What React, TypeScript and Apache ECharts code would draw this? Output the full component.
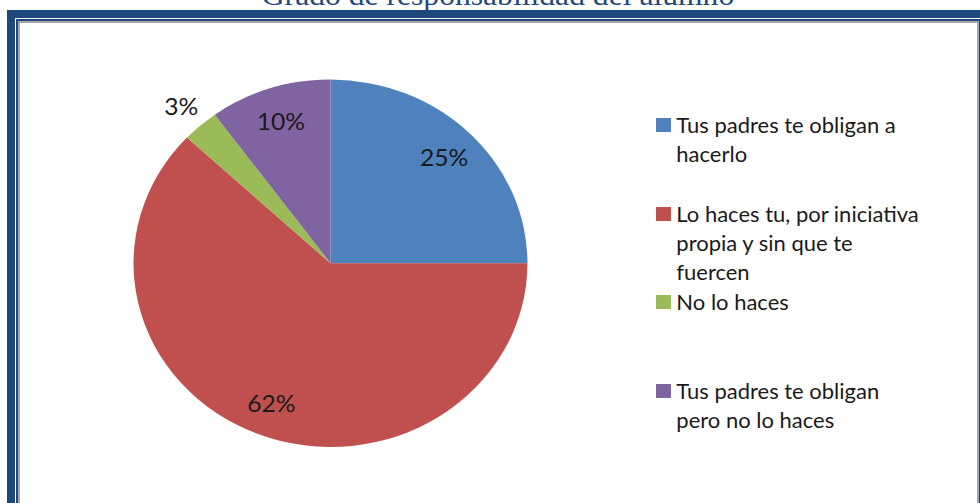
import React, { useEffect, useRef } from "react";
import * as echarts from "echarts";

const titleText = "Grado de responsabilidad del alumno";
const categories = [
  "Tus padres te obligan a hacerlo",
  "Lo haces tu, por iniciativa propia y sin que te fuercen",
  "No lo haces",
  "Tus padres te obligan pero no lo haces",
];
const legendLines = [
  ["Tus padres te obligan a", "hacerlo"],
  ["Lo haces tu, por iniciativa", "propia y sin que te", "fuercen"],
  ["No lo haces"],
  ["Tus padres te obligan", "pero no lo haces"],
];
const values = [25, 62, 3, 10];
const colors = ["#4F81BD", "#C0504D", "#9BBB59", "#8064A2"];
const outsideLabelIdx = [2];

const FULL_W = 980;
const H = 503;
const W = 914;
const S = FULL_W / W;
const sx = (v: number) => v / S;

export default function App() {
  const ref = useRef<HTMLDivElement>(null);
  useEffect(() => {
    if (!ref.current) return;
    const chart = echarts.init(ref.current, undefined, { renderer: "svg" });
    const cx = sx(330.5);
    const cy = 263.3;
    const R = 183.7;
    const L = 29;
    const centers = [125, 214, 302, 391];
    const font = "Lato";
    const transparent = "rgba(0,0,0,0)";

    const baseData = (showFn: (i: number) => boolean) =>
      categories.map((name, i) => ({
        name,
        value: values[i],
        label: { show: showFn(i) },
      }));

    const option: any = {
      animation: false,
      backgroundColor: "#ffffff",
      graphic: [
        { type: "rect", silent: true, shape: { x: sx(7), y: 10, width: sx(1000), height: 600 }, style: { fill: "#1F497D" } },
        { type: "rect", silent: true, shape: { x: sx(15), y: 18, width: sx(1000), height: 600 }, style: { fill: "#ffffff" } },
        { type: "rect", silent: true, shape: { x: sx(16), y: 19, width: sx(1000), height: 600 }, style: { fill: "#1F497D" } },
        { type: "rect", silent: true, shape: { x: sx(18), y: 21, width: sx(979) - sx(18), height: 600 }, style: { fill: "#A6A6A6" } },
        { type: "rect", silent: true, shape: { x: sx(20), y: 23, width: sx(977) - sx(20), height: 600 }, style: { fill: "#ffffff" } },
        {
          type: "text",
          silent: true,
          x: sx(498),
          y: -4.5,
          style: {
            text: titleText,
            font: "29.5px 'Liberation Serif'",
            fill: "#1F497D",
            textAlign: "center",
            textVerticalAlign: "middle",
          },
        },
      ],
      legend: legendLines.map((lines, i) => ({
        orient: "vertical",
        left: sx(656),
        top: centers[i] - ((2 * lines.length - 1) * L) / 2,
        padding: 0,
        itemWidth: 14,
        itemHeight: 14,
        itemGap: 0,
        icon: "rect",
        selectedMode: false,
        data: [
          {
            name: categories[i],
            itemStyle: { color: colors[i], borderWidth: 0 },
          },
        ],
        formatter: () => "\n".repeat(lines.length - 1) + lines.join("\n"),
        textStyle: {
          fontFamily: font,
          fontSize: 20.5,
          lineHeight: L,
          color: "#1a1a1a",
        },
      })),
      series: [
        {
          type: "pie",
          center: [cx, cy],
          radius: [0, R],
          startAngle: 90,
          clockwise: true,
          silent: true,
          label: { show: false },
          labelLine: { show: false },
          itemStyle: { borderWidth: 0 },
          color: colors,
          data: categories.map((name, i) => ({ name, value: values[i] })),
        },
        {
          type: "pie",
          center: [cx, cy],
          radius: [0, R * 1.6],
          startAngle: 90,
          clockwise: true,
          silent: true,
          itemStyle: { color: transparent, borderWidth: 0 },
          label: {
            position: "inside",
            formatter: "{d}%",
            fontFamily: font,
            fontSize: 23,
            color: "#1a1a1a",
          },
          labelLine: { show: false },
          data: baseData((i) => !outsideLabelIdx.includes(i)),
        },
        {
          type: "pie",
          center: [cx, cy],
          radius: [0, R * 2.26],
          startAngle: 90,
          clockwise: true,
          silent: true,
          itemStyle: { color: transparent, borderWidth: 0 },
          label: {
            position: "inside",
            formatter: "{d}%",
            fontFamily: font,
            fontSize: 23,
            color: "#1a1a1a",
          },
          labelLine: { show: false },
          data: baseData((i) => outsideLabelIdx.includes(i)),
        },
      ],
    };
    chart.setOption(option);
    return () => chart.dispose();
  }, []);

  return (
    <div style={{ position: "fixed", left: 0, top: 0, width: FULL_W, height: H, overflow: "hidden", background: "#fff" }}>
      <div
        ref={ref}
        style={{ width: W, height: H, transform: `scaleX(${S})`, transformOrigin: "0 0" }}
      />
    </div>
  );
}
